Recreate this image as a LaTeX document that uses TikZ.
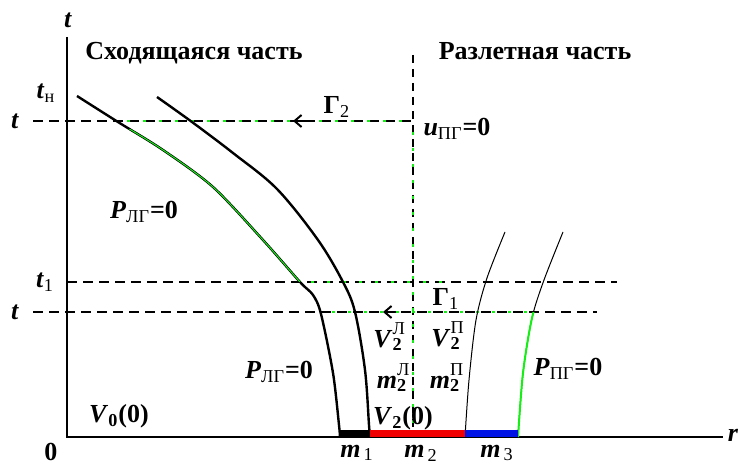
\documentclass[tikz,border=0pt]{standalone}
\usepackage{fontspec}
\setmainfont{Liberation Serif}
\usetikzlibrary{arrows.meta}

\definecolor{verde}{RGB}{20,240,20}
\definecolor{rosso}{RGB}{240,0,0}
\definecolor{blu}{RGB}{0,20,230}

% grandezza con pedice
\newcommand{\pedice}[2]{\textit{#1}\textsubscript{\mdseries #2}}
% grandezza con pedice e apice
\newcommand{\doppio}[3]{\textit{#1}\rlap{\raisebox{0.3ex}{\textsuperscript{\mdseries #3}}}\textsubscript{#2}}

\begin{document}
\begin{tikzpicture}[x=0.5pt,y=-0.5pt,
    font=\fontsize{13}{15}\selectfont\bfseries,
    every node/.style={inner sep=1pt},
    tratteggio/.style={line width=1pt, dash pattern=on 5pt off 3pt},
    verticale/.style={line width=0.6pt, dash pattern=on 4pt off 3pt},
    puntini/.style={verde, line width=1.1pt, dash pattern=on 1.5pt off 6.5pt, dash phase=2.5pt},
    curva/.style={line width=1.2pt},
    sottile/.style={line width=0.5pt},
    barra/.style={line width=3.2pt},
    freccia/.style={line width=1pt, -{Straight Barb[length=3.5pt,width=6pt]}}]

    \useasboundingbox (0,0) rectangle (740,465);

    % Disegnare gli assi t e r
    \coordinate (O) at (67,437);
    \coordinate (tmax) at (67,37);
    \coordinate (rmax) at (723,437);
    \draw[line width=1pt] (tmax) -- (O) -- (rmax);
    \node (tasse) at (68,20) {\textit{t}};
    \node (rasse) at (733,435) {\textit{r}};
    \node (zero) at (51,452) {0};

    % Titoli delle due parti
    \node (sinistra) at (194,53) {Сходящаяся часть};
    \node (destra) at (535,51) {Разлетная часть};

    % Linee tratteggiate orizzontali e verticale
    \coordinate (tA) at (33,121);   \coordinate (tB) at (413,121);
    \coordinate (uA) at (67,282);   \coordinate (uB) at (617,282);
    \coordinate (wA) at (33,312);   \coordinate (wB) at (597,312);
    \coordinate (vA) at (413,55);   \coordinate (vB) at (413,437);
    \draw[verticale] (vA) -- (vB);
    \draw[tratteggio] (tA) -- (tB);
    \draw[tratteggio] (uA) -- (uB);
    \draw[tratteggio] (wA) -- (wB);

    % Puntini verdi sul contorno
    \coordinate (g1) at (118,121);
    \coordinate (g2) at (300,282);  \coordinate (g3) at (445,282);
    \coordinate (g4) at (321,312);  \coordinate (g5) at (533,312);
    \draw[puntini] (tB) -- (g1);
    \draw[puntini] (tB) -- (vB);
    \draw[puntini] (g2) -- (g3);
    \draw[puntini] (g4) -- (g5);

    % Frecce Gamma_2 e Gamma_1
    \coordinate (f1) at (306,121);  \coordinate (f2) at (293,121);
    \coordinate (f3) at (396,312);  \coordinate (f4) at (383,312);
    \draw[freccia] (f1) -- (f2);
    \draw[freccia] (f3) -- (f4);

    % Curve della parte convergente
    \draw[curva] plot[smooth, tension=0.5] coordinates {(77,96) (118,122) (163,150) (213,187) (263,240) (300,282) (313,295) (321,314) (333,373) (339,425) (340,437)};
    \draw[curva] plot[smooth, tension=0.55] coordinates {(157,97) (192,122) (233,153) (277,189) (318,240) (343,282) (355,312) (365,370) (369,425) (370,437)};
    \begin{scope}
        \clip (0,130) rectangle (330,282);
        \draw[verde, sottile] plot[smooth, tension=0.5] coordinates {(77,96) (118,122) (163,150) (213,187) (263,240) (300,282) (313,295) (321,314) (333,373) (339,425) (340,437)};
    \end{scope}

    % Curve della parte divergente
    \draw[sottile] plot[smooth] coordinates {(465,437) (469,380) (476,320) (487,278) (505,232)};
    \draw[sottile] plot[smooth] coordinates {(518,437) (523,373) (532,318) (544,280) (563,232)};
    \begin{scope}
        \clip (500,312) rectangle (560,437);
        \draw[verde, line width=1pt] plot[smooth] coordinates {(518,437) (523,373) (532,318) (544,280) (563,232)};
    \end{scope}

    % Masse sull'asse r
    \coordinate (b1) at (340,433.5);  \coordinate (b2) at (370,433.5);
    \coordinate (b3) at (465,433.5);  \coordinate (b4) at (518,433.5);
    \draw[barra] (b1) -- (b2);
    \draw[barra, rosso] (b2) -- (b3);
    \draw[barra, blu] (b3) -- (b4);

    % Etichette
    \node (tn) at (46,93) {\pedice{t}{н}};
    \node (tsup) at (15,121) {\textit{t}};
    \node (tuno) at (45,282) {\pedice{t}{1}};
    \node (tinf) at (15,312) {\textit{t}};
    \node (G2) at (337,107) {Γ\textsubscript{\mdseries 2}};
    \node (G1) at (446,299) {Γ\textsubscript{\mdseries 1}};
    \node (u) at (457,129) {\pedice{u}{ПГ}=0};
    \node (P1) at (144,212) {\pedice{P}{ЛГ}=0};
    \node (P2) at (279,372) {\pedice{P}{ЛГ}=0};
    \node (P3) at (568,369) {\pedice{P}{ПГ}=0};
    \node (V0) at (119,416) {\textit{V}\textsubscript{0}(0)};
    \node (V2L) at (388,337) {\doppio{V}{2}{Л}};
    \node (m2L) at (392,378) {\doppio{m}{2}{Л}};
    \node (V2P) at (446,336) {\doppio{V}{2}{П}};
    \node (m2P) at (445,378) {\doppio{m}{2}{П}};
    \node (V2) at (403,418) {\textit{V}\textsubscript{2}(0)};
    \node (m1) at (357,453) {\pedice{m}{\,1}};
    \node (m2) at (421,453) {\pedice{m}{\,2}};
    \node (m3) at (497,453) {\pedice{m}{\,3}};

\end{tikzpicture}
\end{document}
